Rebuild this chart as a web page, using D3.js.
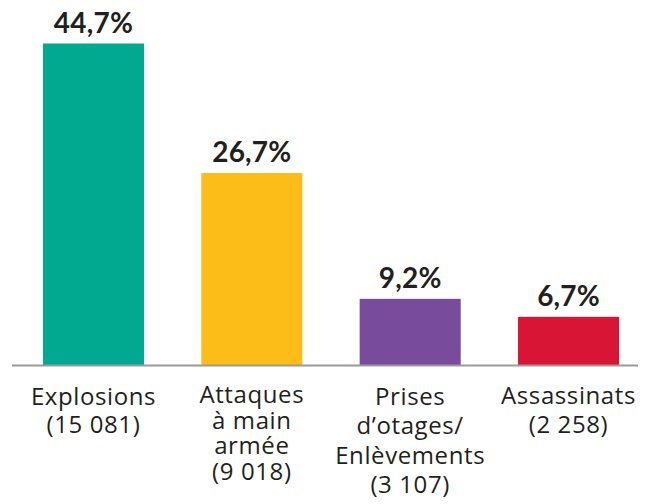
<!DOCTYPE html>
<html>
<head>
<meta charset="utf-8">
<script src="https://cdn.jsdelivr.net/npm/d3@7"></script>
<style>
  html, body { margin: 0; padding: 0; background: #fff; }
  svg { display: block; }
</style>
</head>
<body>
<svg id="chart" width="651" height="504"></svg>
<script>
// Attack types, their share of all attacks (%) and counts
const categories = ["Explosions", "Attaques à main armée", "Prises d’otages/Enlèvements", "Assassinats"];
const labelLines = [
  ["Explosions", "(15 081)"],
  ["Attaques", "à main", "armée", "(9 018)"],
  ["Prises", "d’otages/", "Enlèvements", "(3 107)"],
  ["Assassinats", "(2 258)"]
];
const shares = [44.7, 26.7, 9.2, 6.7];
const counts = [15081, 9018, 3107, 2258];
const colors = ["#00a990", "#fdbd19", "#784b9d", "#d91535"];

// Label layout: first-line offset below the baseline and line spacing per column
const labelTop = [39.5, 38, 40, 39];
const labelGap = [28.8, 25.6, 29.4, 29];

const svg = d3.select("#chart");
const baseY = 365;

const x = d3.scaleBand()
  .domain(categories)
  .range([14.3, 647.7])
  .paddingInner(0.362)
  .paddingOuter(0.181);

const y = d3.scaleLinear()
  .domain([0, 44.7])
  .range([baseY, 43.5]);

const fmt = v => d3.format(".1f")(v).replace(".", ",") + "%";

const data = categories.map((c, i) => ({ c, v: shares[i], n: counts[i], col: colors[i], lines: labelLines[i], k: i }));

// Bars
svg.append("g").selectAll("rect")
  .data(data)
  .join("rect")
  .attr("x", d => x(d.c))
  .attr("y", d => y(d.v))
  .attr("width", x.bandwidth())
  .attr("height", d => y(0) - y(d.v))
  .attr("fill", d => d.col);

// Baseline
svg.append("line")
  .attr("x1", 12).attr("x2", 638)
  .attr("y1", baseY + 0.5).attr("y2", baseY + 0.5)
  .attr("stroke", "#9a9a9a")
  .attr("stroke-width", 2);

// Percentage labels
svg.append("g").selectAll("text")
  .data(data)
  .join("text")
  .attr("x", d => x(d.c) + x.bandwidth() / 2)
  .attr("y", d => y(d.v) - 10.5)
  .attr("text-anchor", "middle")
  .attr("font-family", "Lato, 'Open Sans', sans-serif")
  .attr("font-weight", 700)
  .attr("font-size", 28)
  .attr("letter-spacing", 0.2)
  .attr("fill", "#231f20")
  .text(d => fmt(d.v));

// Category labels, one text element per line
const lineItems = data.flatMap(d =>
  d.lines.map((l, i) => ({ l, i, k: d.k, cx: x(d.c) + x.bandwidth() / 2 })));

svg.append("g").selectAll("text")
  .data(lineItems)
  .join("text")
  .attr("x", t => t.cx)
  .attr("y", t => baseY + labelTop[t.k] + t.i * labelGap[t.k])
  .attr("text-anchor", "middle")
  .attr("font-family", "'Open Sans', sans-serif")
  .attr("font-weight", 400)
  .attr("font-size", 24)
  .attr("letter-spacing", 0.6)
  .attr("fill", "#231f20")
  .text(t => t.l);
</script>
</body>
</html>
